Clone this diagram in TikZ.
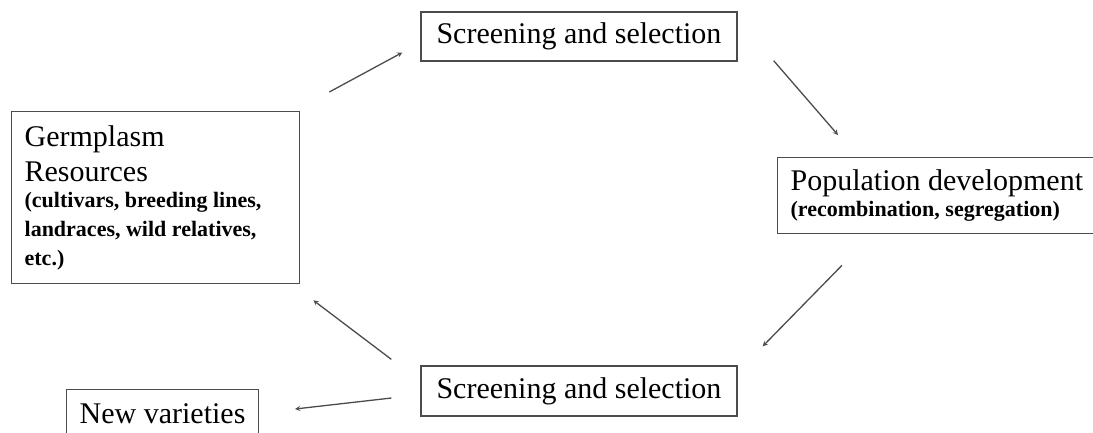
\documentclass[tikz,border=0pt]{standalone}
\usepackage{fontspec}
\setmainfont{Liberation Serif}
\usepackage{tikz}
\usetikzlibrary{calc}
\newcommand\normalspaces{\spaceskip=0pt\xspaceskip=0pt\relax}

\begin{document}
\begin{tikzpicture}[x=1pt, y=1pt,
  box/.style={draw=black!70, line width=1.3pt, fill=white, font=\fontsize{30}{35}\selectfont},
  arrow/.style={->, >=stealth, line width=1.3pt, draw=black!70}]
\useasboundingbox[fill=white] (0,0) rectangle (1093,-432);

\node[box, align=left, anchor=north west, inner xsep=13pt, text width=262pt, minimum height=172pt] (1) at (11, -111) {\normalspaces Germplasm\\Resources\par\vspace{-3pt}{\raggedright\normalspaces\fontsize{22}{29}\selectfont\bfseries (cultivars, breeding lines,\\landraces, wild relatives,\\etc.)\par}};
\node[box, minimum width=316pt, minimum height=49pt, inner sep=0pt] (2) at (579, -36.5) {Screening and selection};
\node[box, align=left, anchor=north west, inner xsep=13pt, text width=300pt, minimum height=76pt] (3) at (777, -157) {\normalspaces Population development\par{\raggedright\normalspaces\fontsize{22}{26}\selectfont\bfseries (recombination, segregation)\par}};
\node[box, minimum width=316pt, minimum height=50pt, inner sep=0pt] (4) at (579, -391) {Screening and selection};
\node[box, anchor=north west, inner xsep=13pt, inner ysep=14pt, text depth=20pt] (5) at (66, -389) {New varieties};

\draw[arrow] ([xshift=29pt, yshift=19pt]1.north east) -- ([xshift=-18pt, yshift=-16pt]2.west);
\draw[arrow] ([xshift=36pt, yshift=1pt]2.south east) -- ([xshift=61pt, yshift=22pt]3.north west);
\draw[arrow] ([xshift=65pt, yshift=-31pt]3.south west) -- ([xshift=25pt, yshift=19pt]4.north east);
\draw[arrow] ([xshift=-29pt, yshift=6pt]4.north west) -- ([xshift=13pt, yshift=-16pt]1.south east);
\draw[arrow] ([xshift=-29pt, yshift=-7pt]4.west) -- ([xshift=36pt, yshift=-20pt]5.north east);

\end{tikzpicture}
\end{document}
